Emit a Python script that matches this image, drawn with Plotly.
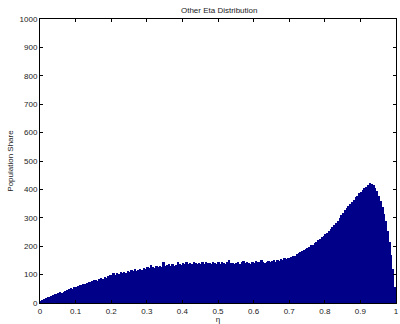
import numpy as np
import plotly.graph_objects as go

# Histogram of eta: 200 bins of width 0.005 over [0, 1]
bin_width = 0.005
bin_counts = [
    6, 10, 13, 16, 20, 22, 25, 28, 30, 33,
    35, 37, 36, 40, 44, 47, 50, 52, 51, 56,
    58, 61, 63, 62, 66, 68, 70, 75, 73, 77,
    80, 82, 79, 85, 87, 86, 91, 89, 95, 97,
    99, 104, 100, 106, 102, 108, 104, 110, 107, 112,
    109, 115, 112, 118, 114, 117, 121, 116, 125, 120,
    127, 122, 135, 126, 124, 129, 127, 131, 128, 146,
    130, 134, 138, 131, 136, 130, 133, 145, 137, 134,
    140, 136, 143, 139, 141, 137, 144, 140, 138, 142,
    139, 143, 137, 145, 140, 142, 138, 144, 141, 139,
    143, 139, 145, 141, 138, 144, 153, 140, 142, 137,
    141, 146, 139, 143, 148, 140, 144, 142, 139, 145,
    142, 147, 143, 145, 151, 144, 140, 146, 149, 143,
    147, 150, 146, 152, 149, 155, 151, 157, 154, 158,
    160, 163, 167, 166, 172, 176, 178, 183, 186, 191,
    194, 197, 203, 206, 212, 215, 222, 226, 231, 236,
    243, 247, 255, 262, 266, 275, 283, 290, 300, 309,
    318, 326, 333, 340, 350, 357, 364, 372, 378, 386,
    392, 398, 404, 410, 414, 421, 418, 414, 405, 393,
    378, 358, 338, 315, 290, 255, 215, 170, 120, 55,
]
bin_centers = [bin_width * (i + 0.5) for i in range(len(bin_counts))]

x_ticks = [0, 0.1, 0.2, 0.3, 0.4, 0.5, 0.6, 0.7, 0.8, 0.9, 1]
x_tick_text = ["0", "0.1", "0.2", "0.3", "0.4", "0.5", "0.6", "0.7", "0.8", "0.9", "1"]
y_ticks = [0, 100, 200, 300, 400, 500, 600, 700, 800, 900, 1000]

font = dict(family="Liberation Sans, Arial, sans-serif", size=8, color="#222")

fig = go.Figure(
    go.Bar(
        x=bin_centers,
        y=bin_counts,
        width=bin_width * 1.02,
        marker=dict(color="#000088", line=dict(width=0)),
        hoverinfo="x+y",
    )
)

axis_common = dict(
    showline=True,
    linecolor="black",
    linewidth=1,
    mirror="ticks",
    ticks="inside",
    ticklen=3,
    tickcolor="black",
    showgrid=False,
    zeroline=False,
    tickfont=font,
    ticklabeloverflow="allow",
)

fig.update_layout(
    width=400,
    height=324,
    margin=dict(l=40, r=1, t=19, b=21),
    paper_bgcolor="white",
    plot_bgcolor="white",
    bargap=0,
    showlegend=False,
    font=font,
    title=dict(
        text="Other Eta Distribution",
        x=0.548,
        xanchor="center",
        y=0.968,
        yanchor="middle",
        font=dict(family="Liberation Sans, Arial, sans-serif", size=8, color="#222"),
    ),
    xaxis=dict(
        range=[0, 1],
        tickvals=x_ticks,
        ticktext=x_tick_text,
        title=dict(text="η", standoff=2, font=font),
        **axis_common,
    ),
    yaxis=dict(
        range=[0, 1000],
        tickvals=y_ticks,
        title=dict(text="Population Share", standoff=4, font=font),
        **axis_common,
    ),
)

fig.write_html("out.html")
